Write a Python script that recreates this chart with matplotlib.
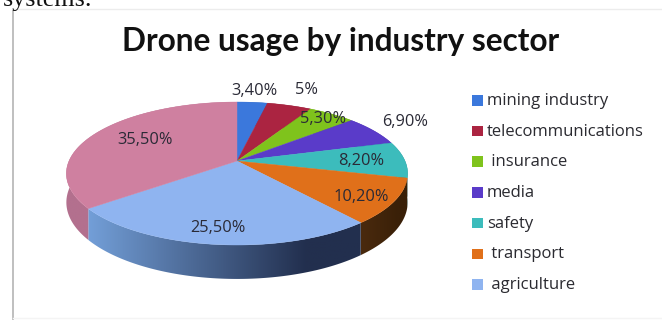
import matplotlib
matplotlib.use("Agg")
import matplotlib.pyplot as plt
import numpy as np
from matplotlib.colors import to_rgb
from matplotlib.patches import Polygon, Rectangle

# Shares per sector, clockwise from twelve o'clock
sectors = ["mining industry", "telecommunications", " insurance", "media", "safety",
           " transport", " agriculture", ""]
shares = [3.4, 5.0, 5.3, 6.9, 8.2, 10.2, 25.5, 35.5]
share_labels = ["3,40%", "5%", "5,30%", "6,90%", "8,20%", "10,20%", "25,50%", "35,50%"]

top_colors = ["#3b78dc", "#ab2441", "#7fc31c", "#5a3bc9", "#3cbcbc", "#e0701a", "#8fb4f0", "#cf80a0"]
# Rim shade at the left and right end of each sector's visible wall
rim_colors = [("#2a5aa8", "#2a5aa8"), ("#7a1a30", "#7a1a30"), ("#5c8c14", "#5c8c14"),
              ("#3f2a90", "#3f2a90"), ("#2a8a8a", "#1f6a6a"), ("#4a2a0e", "#3a2008"),
              ("#739fd8", "#222f4e"), ("#b3708e", "#b3708e")]

label_xy = [(254, 91), (306, 90), (323, 119), (405, 122), (361, 161), (361, 197), (218, 228), (145, 140)]

# Tilted disc: perspective projection of a circle
CX, CY = 237, 161
RX, RY = 168, 69.3
TILT = 0.175
DEPTH = 28


def proyectar(angulos, caida=0.0):
    """Projects clockwise angles (degrees from the top) onto the picture plane."""
    u = np.sin(np.radians(angulos))
    v = np.cos(np.radians(angulos))
    w = 1 + TILT * v
    return CX + RX * u / w, CY + (-RY * v + caida) / w


fig = plt.figure(figsize=(6.62, 3.2), dpi=100)
ax = fig.add_axes([0, 0, 1, 1])
ax.axis("off")

# Chart frame inside the page, with the tail of the preceding paragraph above it
ax.plot([12.5, 12.5], [9, 320], color="#b4b4b4", lw=1.2, zorder=1)
ax.plot([12, 662], [9, 9], color="#ececec", lw=1, zorder=1)
ax.plot([13, 662], [318, 318], color="#f4f4f4", lw=1, zorder=1)
ax.text(3, 6, "systems.", fontsize=18.7, family="Liberation Serif", color="#111111",
        ha="left", va="baseline", zorder=2)

ax.text(341, 41, "Drone usage by industry sector", fontsize=22.7, family="Lato", weight="bold",
        color="#111111", ha="center", va="center", zorder=5)

fronteras = np.concatenate([[0], np.cumsum(shares)]) / sum(shares) * 360

# Walls first, as a horizontal gradient clipped to each sector's rim
for i, (a0, a1) in enumerate(zip(fronteras[:-1], fronteras[1:])):
    angulos = np.linspace(a0, a1, max(int((a1 - a0) * 2), 2) + 1)
    x_top, y_top = proyectar(angulos)
    x_bot, y_bot = proyectar(angulos, DEPTH)
    borde = list(zip(x_top, y_top)) + list(zip(x_bot[::-1], y_bot[::-1]))
    c1, c2 = np.array(to_rgb(rim_colors[i][0])), np.array(to_rgb(rim_colors[i][1]))
    t = np.clip(np.linspace(0, 1, 256) * 1.25, 0, 1)[None, :, None]
    gradiente = c1[None, None, :] + (c2 - c1)[None, None, :] * t
    imagen = ax.imshow(gradiente, extent=(x_top.min(), x_top.max(), y_bot.max(), y_top.min()),
                       aspect="auto", zorder=2, interpolation="bilinear")
    imagen.set_clip_path(Polygon(borde, closed=True, transform=ax.transData))

for i, (a0, a1) in enumerate(zip(fronteras[:-1], fronteras[1:])):
    angulos = np.linspace(a0, a1, max(int((a1 - a0) * 2), 2) + 1)
    x_top, y_top = proyectar(angulos)
    puntos = [(CX, CY)] + list(zip(x_top, y_top))
    ax.add_patch(Polygon(puntos, closed=True, facecolor=top_colors[i], edgecolor=top_colors[i],
                         lw=0.3, zorder=3))

for etiqueta, (lx, ly) in zip(share_labels, label_xy):
    ax.text(lx, ly, etiqueta, fontsize=11.8, family="Open Sans", color="#2a2a36",
            ha="center", va="center", zorder=6)

# Legend has no entry for the last sector
for i, nombre in enumerate(sectors[:7]):
    y = 100 + i * 30.7
    ax.add_patch(Rectangle((472, y - 5), 10.5, 10.5, facecolor=top_colors[i], edgecolor="none", zorder=4))
    ax.text(487, y + 1, nombre, fontsize=12, family="Open Sans", color="#2a2a30",
            ha="left", va="center", zorder=5)

ax.set_xlim(0, 662)
ax.set_ylim(320, 0)
fig.savefig("out.png", dpi=100)
